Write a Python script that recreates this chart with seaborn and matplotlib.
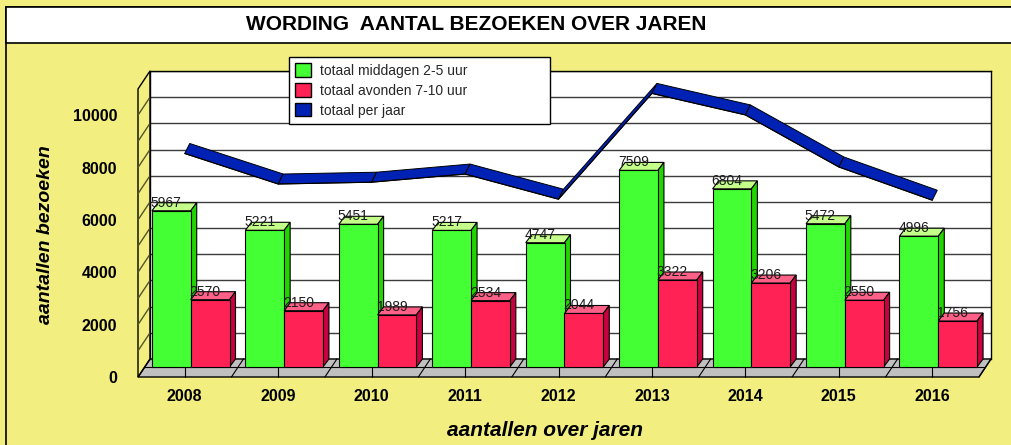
import numpy as np
import pandas as pd
import seaborn as sns
import matplotlib.pyplot as plt
from matplotlib.patches import Polygon, Rectangle, Patch
from matplotlib.colors import to_rgba

# data
jaren = ['2008', '2009', '2010', '2011', '2012', '2013', '2014', '2015', '2016']
middagen = [5967, 5221, 5451, 5217, 4747, 7509, 6804, 5472, 4996]
avonden = [2570, 2150, 1989, 2534, 2044, 3322, 3206, 2550, 1756]
per_jaar = [8537, 7371, 7440, 7751, 6791, 10831, 10010, 8022, 6752]

lab_mid = 'totaal middagen 2-5 uur'
lab_avo = 'totaal avonden 7-10 uur'
lab_jaar = 'totaal per jaar'

groen, groen_zij, groen_top = '#44FF33', '#22D400', '#C4FF8A'
rood, rood_zij, rood_top = '#FF2255', '#C80040', '#FF6088'
blauw = '#0022B4'
geel = '#F2EF80'

sns.set_theme(style='white')
plt.rcParams['font.family'] = ['Liberation Sans', 'DejaVu Sans']

W, H = 1012, 445
fig = plt.figure(figsize=(W / 100, H / 100), dpi=100, facecolor=geel)


def frac(x0, top, w, h):
    return [x0 / W, (H - top - h) / H, w / W, h / H]


# chart frame + title band
fig.add_artist(Rectangle((6 / W, -0.02), 1, (H - 7) / H + 0.02, transform=fig.transFigure,
                         facecolor=geel, edgecolor='black', lw=1.2, zorder=0))
fig.add_artist(Rectangle((6 / W, (H - 43) / H), 1, 36 / H, transform=fig.transFigure,
                         facecolor='white', edgecolor='black', lw=1.2, zorder=0))
fig.text(476 / W, (H - 25) / H, 'WORDING  AANTAL BEZOEKEN OVER JAREN', ha='center', va='center',
         fontsize=15, fontweight='bold', color='black')

YMAX = 11000
AW, AH = 841, 288
ax = fig.add_axes(frac(150, 71, AW, AH))      # back wall
axf = fig.add_axes(frac(138, 89, AW, AH))     # front plane (labels, line)
px_x = AW / len(jaren)
px_y = AH / YMAX


def dx(p):
    return p / px_x


def dy(p):
    return p / px_y


df = pd.DataFrame({
    'jaar': jaren * 2,
    'aantal': middagen + avonden,
    'serie': [lab_mid] * len(jaren) + [lab_avo] * len(jaren),
})
sns.barplot(data=df, x='jaar', y='aantal', hue='serie', palette=[groen, rood], width=0.83,
            saturation=1, edgecolor='black', linewidth=0.8, legend=False, ax=ax)

ax.set_facecolor('white')
ax.set_xlim(-0.5, len(jaren) - 0.5)
ax.set_ylim(0, YMAX)
ax.set_yticks(np.arange(0, YMAX + 1, 1000))
ax.yaxis.grid(True, color='#3c3c3c', lw=1)
ax.xaxis.grid(False)
ax.set_axisbelow(True)
ax.tick_params(left=False, bottom=False, labelleft=False, labelbottom=False)
ax.set_xlabel('')
ax.set_ylabel('')
for s in ['left', 'right', 'top']:
    ax.spines[s].set_visible(True)
    ax.spines[s].set_color('black')
    ax.spines[s].set_linewidth(1)
ax.spines['bottom'].set_visible(False)

# 3D depth of bars: front face shifted 6px left, 8px down
bx, by = dx(6), dy(8)
g_rgba = to_rgba(groen)
bars = list(ax.patches)
for p in bars:
    x0, w, h = p.get_x(), p.get_width(), p.get_height()
    x1 = x0 + w
    is_groen = np.allclose(p.get_facecolor(), g_rgba, atol=0.02)
    zij, top = (groen_zij, groen_top) if is_groen else (rood_zij, rood_top)
    z = 3 + x0
    fx0, fx1 = x0 - bx, x1 - bx
    ax.add_patch(Polygon([(fx0, h - by), (fx1, h - by), (x1, h), (x0, h)], closed=True,
                         facecolor=top, edgecolor='black', lw=0.8, zorder=z, clip_on=False))
    ax.add_patch(Polygon([(fx1, -by), (fx1, h - by), (x1, h), (x1, 0)], closed=True,
                         facecolor=zij, edgecolor='black', lw=0.8, zorder=z, clip_on=False))
    p.set_x(fx0)
    p.set_y(-by)
    p.set_zorder(z + 0.01)
    p.set_clip_on(False)
    ax.annotate(f'{int(round(h))}', (x0 + w / 2, h), xytext=(-11, 0), textcoords='offset pixels',
                ha='center', va='center', fontsize=10, color='#1c1c1c', zorder=20,
                annotation_clip=False)

# floor and left wall
fx, fy = dx(12), dy(18)
L, R = -0.5, len(jaren) - 0.5
ax.add_patch(Polygon([(L, 0), (R, 0), (R - fx, -fy), (L - fx, -fy)], closed=True,
                     facecolor='#C0C0C0', edgecolor='black', lw=1, zorder=1, clip_on=False))
ax.plot([L - bx, R - bx], [-by, -by], color='black', lw=0.8, zorder=1.5, clip_on=False)
for k in range(len(jaren) + 1):
    ax.plot([k - 0.5, k - 0.5 - fx], [0, -fy], color='black', lw=0.8, zorder=1.5, clip_on=False)
for k in range(len(jaren)):
    ax.plot([k - fx, k - fx], [-by, -fy], color='black', lw=0.8, zorder=1.5, clip_on=False)

ax.add_patch(Polygon([(L, 0), (L, YMAX), (L - fx, YMAX - fy), (L - fx, -fy)], closed=True,
                     facecolor=geel, edgecolor='black', lw=1, zorder=1, clip_on=False))
for v in range(1000, YMAX, 1000):
    ax.plot([L, L - fx], [v, v - fy], color='#55552a', lw=1, zorder=1.5, clip_on=False)

# front plane: ticks, labels and the total line as a ribbon
axf.set_facecolor('none')
for s in axf.spines.values():
    s.set_visible(False)
lijn = pd.DataFrame({'jaar': jaren, 'totaal': per_jaar})
sns.lineplot(data=lijn, x='jaar', y='totaal', color='black', lw=0.8, ax=axf, zorder=5)
axf.set_xlim(-0.5, len(jaren) - 0.5)
axf.set_ylim(0, YMAX)
rx, ry = dx(5), dy(10)
for i in range(len(jaren) - 1):
    y0, y1 = per_jaar[i], per_jaar[i + 1]
    axf.add_patch(Polygon([(i, y0), (i + 1, y1), (i + 1 + rx, y1 + ry), (i + rx, y0 + ry)], closed=True,
                          facecolor=blauw, edgecolor='black', lw=0.7, zorder=4, clip_on=False))

axf.set_yticks(np.arange(0, 10001, 2000))
axf.set_yticklabels([str(v) for v in range(0, 10001, 2000)])
axf.set_xticks(range(len(jaren)))
axf.set_xticklabels(jaren)
axf.tick_params(axis='y', length=0, pad=15, labelsize=11.5)
axf.tick_params(axis='x', length=0, pad=8.5, labelsize=11.5)
for t in axf.get_xticklabels() + axf.get_yticklabels():
    t.set_fontweight('bold')
    t.set_color('black')

axf.set_ylabel('aantallen bezoeken', fontsize=14, fontweight='bold', style='italic', color='black',
               va='center')
axf.yaxis.set_label_coords((46 - 138) / AW, (377 - 235) / AH)
axf.set_xlabel('aantallen over jaren', fontsize=15, fontweight='bold', style='italic', color='black',
               va='center')
axf.xaxis.set_label_coords((545 - 138) / AW, -(430 - 377) / AH)

handles = [
    Patch(facecolor=groen, edgecolor='black', label=lab_mid),
    Patch(facecolor=rood, edgecolor='black', label=lab_avo),
    Patch(facecolor=blauw, edgecolor='black', label=lab_jaar),
]
leg = fig.legend(handles=handles, loc='upper left', mode='expand',
                 bbox_to_anchor=(289 / W, (H - 124) / H, 261 / W, 67 / H),
                 fontsize=10, frameon=True, fancybox=False, edgecolor='black', framealpha=1,
                 borderaxespad=0, borderpad=0.45, handlelength=1.1, handleheight=1.1,
                 handletextpad=0.7, labelspacing=0.4)
leg.get_frame().set_linewidth(1)
leg.set_zorder(30)

fig.savefig('out.png', dpi=100, facecolor=fig.get_facecolor())
